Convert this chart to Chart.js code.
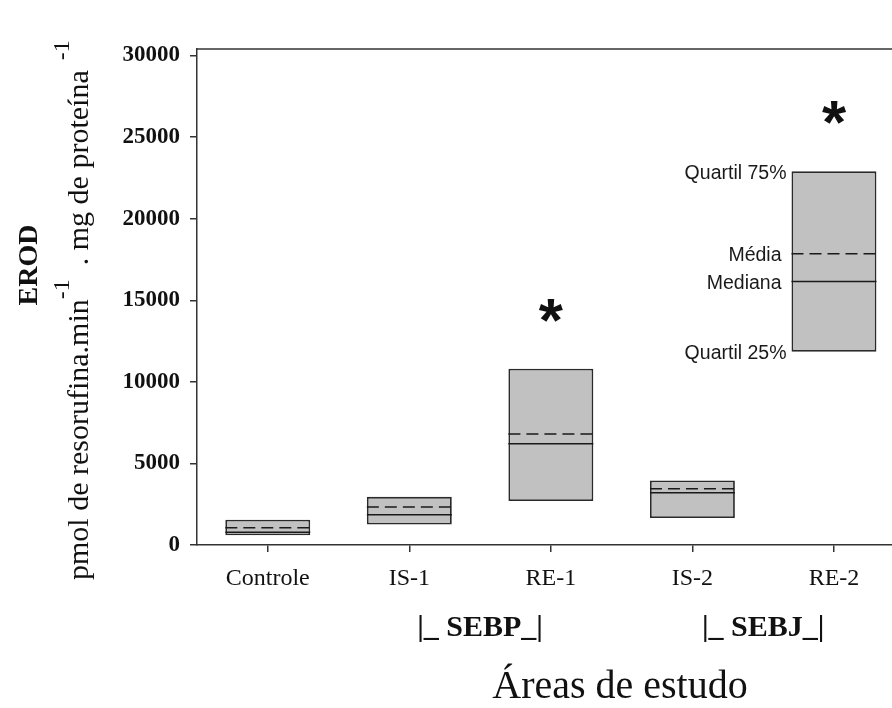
<!DOCTYPE html>
<html>
<head>
<meta charset="utf-8">
<script src="https://cdn.jsdelivr.net/npm/chart.js@4/dist/chart.umd.min.js"></script>
<style>
  html, body { margin: 0; padding: 0; background: #fff; }
  #wrap { width: 892px; height: 708px; }
</style>
</head>
<body>
<div id="wrap"><canvas id="c" width="892" height="708"></canvas></div>
<script>
// Study areas and EROD activity summary (pmol resorufina / min / mg proteína)
const categories = ['Controle', 'IS-1', 'RE-1', 'IS-2', 'RE-2'];
const quartil25 = [600, 1250, 2700, 1650, 11850];
const quartil75 = [1550, 2950, 10800, 3950, 22900];
const mediana   = [780, 1850, 6200, 3200, 16150];
const media     = [1050, 2330, 6800, 3450, 17850];
const significant = [false, false, true, false, true];
const groupLabels = ['|_ SEBP_|', '|_ SEBJ_|'];
const groupMembers = [[1, 2], [3, 4]];
const yTickValues = [0, 5000, 10000, 15000, 20000, 25000, 30000];
const legendCategory = 4;
const legendTexts = ['Quartil 75%', 'Média', 'Mediana', 'Quartil 25%'];

const AXIS = '#333333';
const BOX_EDGE = '#2a2a2a';
const BOX_FILL = '#c0c1c0';
const BOX_HALF = 0.3; // half of the box width in category units
const SERIF = '"Liberation Serif", "Times New Roman", serif';
const SANS = '"Liberation Sans", Arial, sans-serif';

// horizontal segments across each box, separated by gaps
function segments(values) {
  const pts = [];
  values.forEach((v, i) => {
    pts.push({ x: i - BOX_HALF, y: v }, { x: i + BOX_HALF, y: v }, { x: i, y: null });
  });
  return pts;
}

const decorations = {
  id: 'decorations',
  afterDraw(chart) {
    const { ctx, chartArea, scales } = chart;
    const xs = scales.x, ys = scales.y;
    ctx.save();

    // top frame line
    ctx.strokeStyle = AXIS;
    ctx.lineWidth = 1.5;
    ctx.beginPath();
    ctx.moveTo(chartArea.left, chartArea.top);
    ctx.lineTo(chartArea.right, chartArea.top);
    ctx.stroke();

    // significance asterisks above the boxes
    ctx.fillStyle = '#111';
    ctx.font = 'bold 62px ' + SANS;
    ctx.textAlign = 'center';
    ctx.textBaseline = 'alphabetic';
    significant.forEach((s, i) => {
      if (!s) return;
      const m = ctx.measureText('*');
      const cx = xs.getPixelForValue(i);
      const cy = ys.getPixelForValue(quartil75[i] + 3600);
      const mid = (m.actualBoundingBoxAscent - m.actualBoundingBoxDescent) / 2;
      ctx.fillText('*', cx, cy + mid);
    });

    // labels explaining the box parts
    ctx.font = '19.5px ' + SANS;
    ctx.textAlign = 'right';
    ctx.textBaseline = 'middle';
    ctx.fillStyle = '#1a1a1a';
    const k = legendCategory;
    const bx = xs.getPixelForValue(k - BOX_HALF);
    const lv = [quartil75[k], media[k], mediana[k], quartil25[k]];
    const off = [5, 10, 10, 5];
    legendTexts.forEach((t, j) => {
      ctx.fillText(t, bx - off[j], ys.getPixelForValue(lv[j]) + 2);
    });

    // site groups under the tick labels
    ctx.font = 'bold 30px ' + SERIF;
    ctx.textAlign = 'center';
    ctx.textBaseline = 'alphabetic';
    ctx.fillStyle = '#111';
    groupLabels.forEach((g, j) => {
      const [a, b] = groupMembers[j];
      const cx = (xs.getPixelForValue(a) + xs.getPixelForValue(b)) / 2;
      ctx.fillText(g, cx, 636);
    });

    // x axis title
    ctx.font = '40px ' + SERIF;
    ctx.fillText('Áreas de estudo', 620, 698);

    // y axis title (rotated, with superscripts)
    ctx.save();
    ctx.translate(37, 265);
    ctx.rotate(-Math.PI / 2);
    ctx.font = 'bold 28px ' + SERIF;
    ctx.textAlign = 'center';
    ctx.textBaseline = 'alphabetic';
    ctx.fillText('EROD', 0, 0);
    ctx.restore();

    ctx.save();
    ctx.translate(88, 580);
    ctx.rotate(-Math.PI / 2);
    ctx.textAlign = 'left';
    ctx.textBaseline = 'alphabetic';
    // [text, superscript?, gap before, gap after]
    const parts = [
      ['pmol de resorufina.min', false, 0, 0],
      ['-1', true, 0, 0],
      ['. mg de proteína', false, 14, 10],
      ['-1', true, 0, 0]
    ];
    let px = 0;
    parts.forEach(([t, sup, before, after]) => {
      ctx.font = (sup ? '24px ' : '30px ') + SERIF;
      px += before;
      ctx.fillText(t, px, sup ? -19 : 0);
      px += ctx.measureText(t).width + after;
    });
    ctx.restore();

    ctx.restore();
  }
};

new Chart(document.getElementById('c'), {
  type: 'bar',
  data: {
    datasets: [
      {
        type: 'bar',
        data: categories.map((c, i) => ({ x: i, y: [quartil25[i], quartil75[i]] })),
        backgroundColor: BOX_FILL,
        borderColor: BOX_EDGE,
        borderWidth: 1.8,
        borderSkipped: false,
        barPercentage: BOX_HALF * 2,
        categoryPercentage: 1,
        order: 3
      },
      {
        type: 'line',
        data: segments(mediana),
        borderColor: '#1a1a1a',
        borderWidth: 1.5,
        pointRadius: 0,
        spanGaps: false,
        order: 1
      },
      {
        type: 'line',
        data: segments(media),
        borderColor: '#1a1a1a',
        borderWidth: 1.5,
        borderDash: [12, 6],
        pointRadius: 0,
        spanGaps: false,
        order: 2
      }
    ]
  },
  options: {
    responsive: false,
    animation: false,
    devicePixelRatio: 1,
    layout: { padding: { top: 49, right: 0, left: 0, bottom: 0 } },
    plugins: { legend: { display: false }, tooltip: { enabled: false } },
    scales: {
      x: {
        type: 'linear',
        offset: false,
        min: -0.5,
        max: 4.41,
        afterBuildTicks: (s) => { s.ticks = categories.map((c, i) => ({ value: i })); },
        afterFit: (s) => { s.height = 708 - 545; },
        ticks: {
          callback: (v) => categories[v],
          font: { family: SERIF, size: 24 },
          color: '#111',
          padding: 12,
          autoSkip: false,
          maxRotation: 0
        },
        grid: { offset: false, drawOnChartArea: false, drawTicks: true, tickLength: 7, color: AXIS, lineWidth: 1.5 },
        border: { color: AXIS, width: 1.5 }
      },
      y: {
        type: 'linear',
        min: 0,
        max: 30400,
        afterBuildTicks: (s) => { s.ticks = yTickValues.map((v) => ({ value: v })); },
        afterFit: (s) => { s.width = 197; },
        ticks: {
          callback: (v) => String(v),
          font: { family: SERIF, size: 23, weight: 'bold' },
          color: '#111',
          padding: 10
        },
        grid: { drawOnChartArea: false, drawTicks: true, tickLength: 7, color: AXIS, lineWidth: 1.5 },
        border: { color: AXIS, width: 1.5 }
      }
    }
  },
  plugins: [decorations]
});
</script>
</body>
</html>
